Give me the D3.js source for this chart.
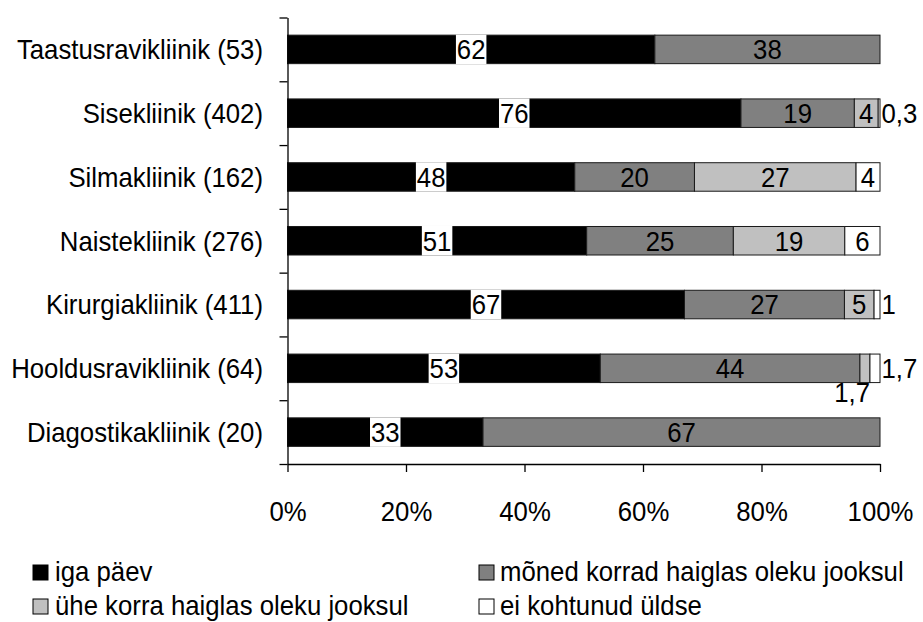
<!DOCTYPE html>
<html>
<head>
<meta charset="utf-8">
<script src="https://cdn.jsdelivr.net/npm/d3@7"></script>
<style>
  html, body { margin: 0; padding: 0; background: #ffffff; }
  svg { display: block; font-family: "Liberation Sans", Arial, sans-serif; }
</style>
</head>
<body>
<svg id="chart" width="923" height="622"></svg>
<script>
// ---------- data ----------
const categories = [
  "Taastusravikliinik (53)",
  "Sisekliinik (402)",
  "Silmakliinik (162)",
  "Naistekliinik (276)",
  "Kirurgiakliinik (411)",
  "Hooldusravikliinik (64)",
  "Diagostikakliinik (20)"
];
const seriesNames = [
  "iga päev",
  "mõned korrad haiglas oleku jooksul",
  "ühe korra haiglas oleku jooksul",
  "ei kohtunud üldse"
];
const igaPaev      = [62, 76, 48, 51, 67, 53, 33];
const moned        = [38, 19, 20, 25, 27, 44, 67];
const uheKorra     = [0, 4, 27, 19, 5, 1.7, 0];
const eiKohtunud   = [0, 0.3, 4, 6, 1, 1.7, 0];
const tickValues   = [0, 0.2, 0.4, 0.6, 0.8, 1];
const seriesColors = ["#000000", "#808080", "#c0c0c0", "#ffffff"];

// ---------- build table ----------
const seriesArrays = [igaPaev, moned, uheKorra, eiKohtunud];
const keys = seriesNames;
const table = categories.map((c, i) => {
  const row = { cat: c };
  keys.forEach((k, j) => row[k] = seriesArrays[j][i]);
  return row;
});
const stacked = d3.stack().keys(keys).offset(d3.stackOffsetExpand)(table);

// ---------- layout ----------
const svg = d3.select("#chart");
const plotL = 287.5, plotR = 880, plotT = 17.5, plotB = 464;
const FS = 28, SX = 0.92;

const x = d3.scaleLinear().domain([0, 1]).range([plotL, plotR]);
const y = d3.scaleBand().domain(categories).range([plotT, plotB]).paddingInner(0.553).paddingOuter(0.2765);
const yb = d3.scaleLinear().domain([0, categories.length]).range([plotT, plotB]);

const fmt = v => String(v).replace(".", ",");

function addText(parent, px, py, str, anchor) {
  const g = parent.append("g").attr("transform", `translate(${px},${py}) scale(${SX},1)`);
  g.append("text")
    .attr("text-anchor", anchor || "middle")
    .attr("dy", "0.35em")
    .attr("font-size", FS)
    .attr("fill", "#000")
    .text(str);
  return g;
}

// ---------- bars ----------
const gBars = svg.append("g");
stacked.forEach((s, si) => {
  gBars.selectAll(null).data(s.filter(d => d[1] - d[0] > 0)).enter().append("rect")
    .attr("x", d => x(d[0]))
    .attr("y", d => y(d.data.cat))
    .attr("width", d => x(d[1]) - x(d[0]))
    .attr("height", y.bandwidth())
    .attr("fill", seriesColors[si])
    .attr("stroke", "#1a1a1a")
    .attr("stroke-width", 1);
});

// ---------- data labels ----------
const gLab = svg.append("g");
stacked.forEach((s, si) => {
  s.forEach((d, i) => {
    const v = seriesArrays[si][i];
    if (!v) return;
    const cy = y(d.data.cat) + y.bandwidth() / 2;
    const x0 = x(d[0]), x1 = x(d[1]);
    const str = fmt(v);
    if (si === 3 && v < 3) {
      addText(gLab, x1 + 1.5, cy, str, "start");
    } else if (si === 2 && v < 3) {
      addText(gLab, x1, y(d.data.cat) + y.bandwidth() + 10, str, "end");
    } else {
      const cx = (x0 + x1) / 2;
      if (si === 0) {
        const g = addText(gLab, cx, cy, str, "middle");
        const w = g.select("text").node().getComputedTextLength();
        g.insert("rect", "text")
          .attr("x", -w / 2 - 1)
          .attr("y", -y.bandwidth() / 2 - 0.5)
          .attr("width", w + 2)
          .attr("height", y.bandwidth() + 1)
          .attr("fill", "#fff");
      } else {
        addText(gLab, cx, cy, str, "middle");
      }
    }
  });
});

// ---------- axes ----------
const yAxis = svg.append("g")
  .attr("transform", `translate(${plotL},0)`)
  .call(d3.axisLeft(yb).tickValues(d3.range(0, categories.length + 1)).tickSize(8).tickSizeOuter(0).tickFormat(""));
yAxis.selectAll("path, line").attr("stroke", "#000").attr("stroke-width", 1.3);

const xAxis = svg.append("g")
  .attr("transform", `translate(0,${plotB})`)
  .call(d3.axisBottom(x).tickValues(tickValues).tickSize(8).tickSizeOuter(0).tickFormat(d3.format(".0%")));
xAxis.selectAll("path, line").attr("stroke", "#000").attr("stroke-width", 1.3);
xAxis.selectAll("text")
  .attr("font-size", FS)
  .attr("font-family", "Liberation Sans, Arial, sans-serif")
  .attr("fill", "#000")
  .attr("y", 47)
  .attr("dy", "0.35em")
  .attr("transform", `scale(${SX},1)`);

// ---------- category labels ----------
const gCat = svg.append("g");
categories.forEach(c => {
  addText(gCat, plotL - 24.5, y(c) + y.bandwidth() / 2, c, "end");
});

// ---------- legend ----------
const legendPos = [
  { sx: 33, tx: 55, cy: 571 },
  { sx: 479, tx: 500, cy: 571 },
  { sx: 33, tx: 55, cy: 605 },
  { sx: 479, tx: 500, cy: 605 }
];
const gLeg = svg.append("g");
seriesNames.forEach((n, i) => {
  const p = legendPos[i];
  gLeg.append("rect")
    .attr("x", p.sx).attr("y", p.cy - 6)
    .attr("width", 15).attr("height", 15)
    .attr("fill", seriesColors[i]).attr("stroke", "#000").attr("stroke-width", 1);
  addText(gLeg, p.tx, p.cy, n, "start");
});
</script>
</body>
</html>
